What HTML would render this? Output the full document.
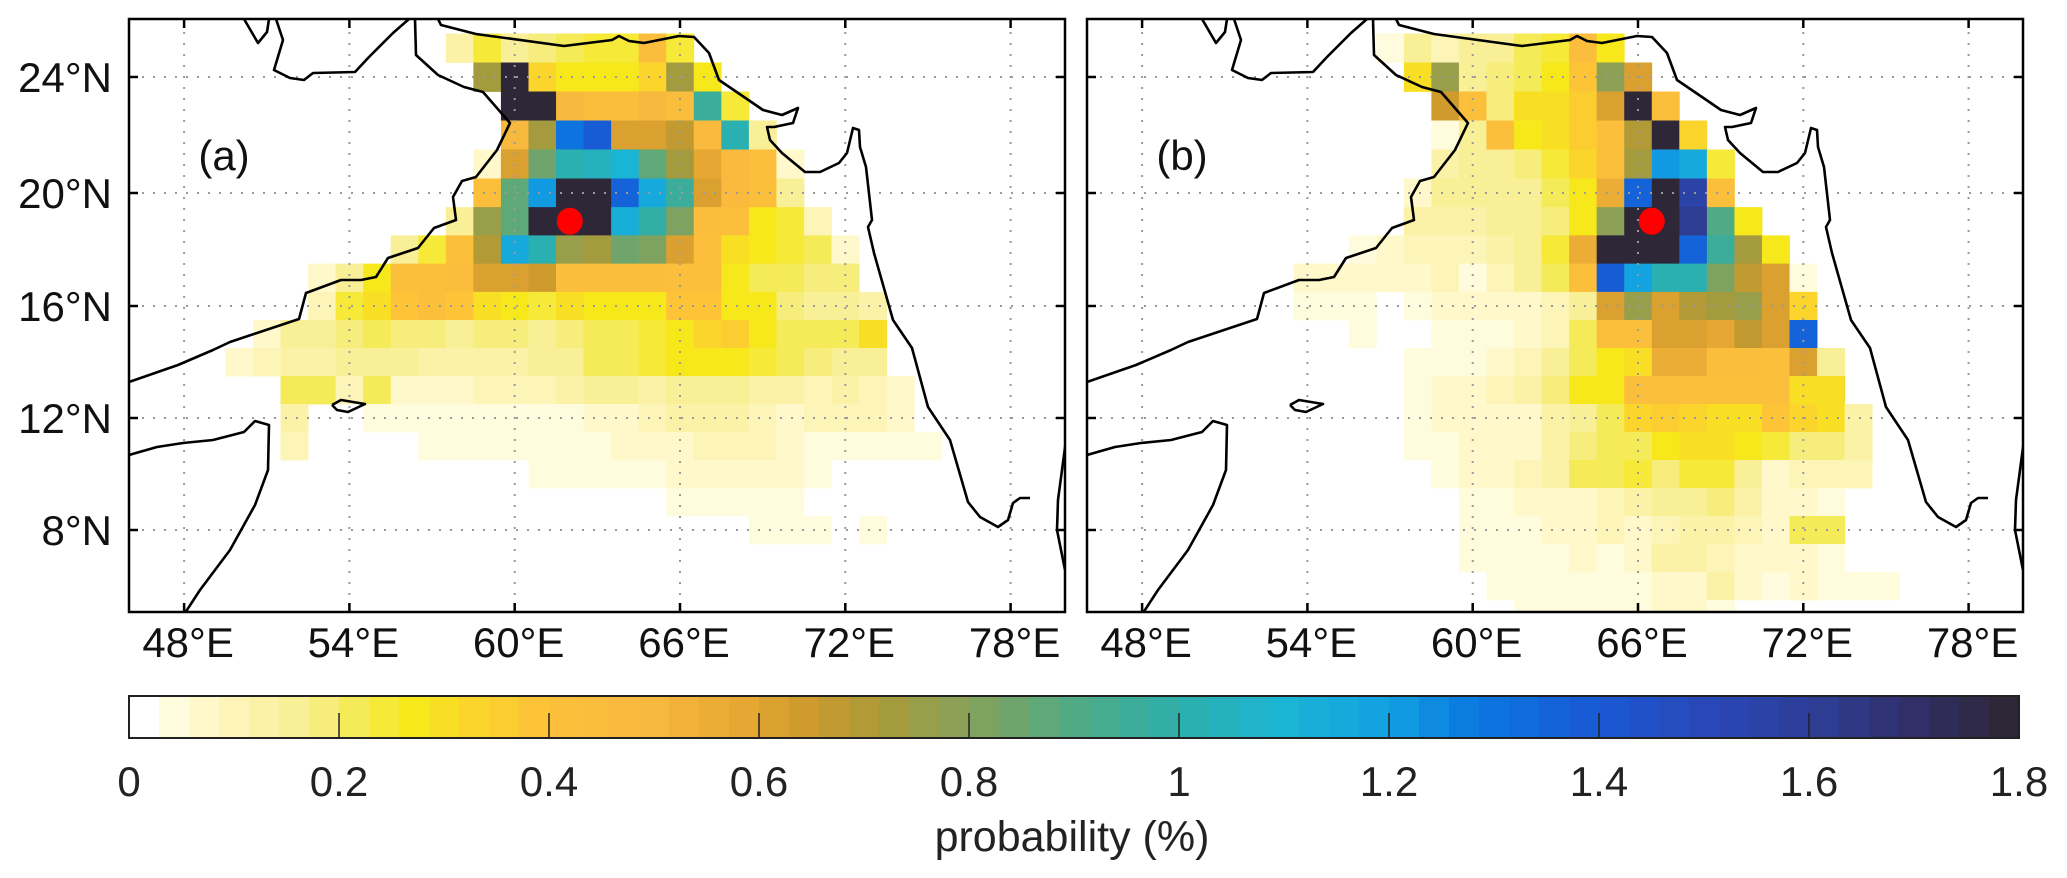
<!DOCTYPE html>
<html><head><meta charset="utf-8"><title>Probability maps</title>
<style>
html,body{margin:0;padding:0;background:#fff;}
svg{display:block;font-family:"Liberation Sans",Arial,sans-serif;}
</style></head>
<body>
<svg id="fig" width="2067" height="878" viewBox="0 0 2067 878" xmlns="http://www.w3.org/2000/svg">
<defs>
<clipPath id="clipA"><rect x="129" y="19" width="936" height="593"/></clipPath>
<clipPath id="clipB"><rect x="1087" y="19" width="936" height="593"/></clipPath>
</defs>
<g id="panelA"></g>
<g id="panelB"></g>
<g id="cbar"></g>
</svg>
<script>
// ---- data ----
const lonTicks = [48, 54, 60, 66, 72, 78];
const lonTickLabels = ["48°E", "54°E", "60°E", "66°E", "72°E", "78°E"];
const latTicks = [24, 20, 16, 12, 8];
const latTickLabels = ["24°N", "20°N", "16°N", "12°N", "8°N"];
const cbarTicks = [0, 0.2, 0.4, 0.6, 0.8, 1, 1.2, 1.4, 1.6, 1.8];
const cbarTickLabels = ["0", "0.2", "0.4", "0.6", "0.8", "1", "1.2", "1.4", "1.6", "1.8"];
const originA = [62, 19];
const originB = [66.5, 19];
// rows: [lat, first lon, values...]
const gridA = [
 [25, 58, [0.12,0.25,0.15,0.18,0.2,0.25,0.25,0.45,0.25]],
 [24, 59, [0.72,1.8,0.32,0.27,0.28,0.27,0.33,0.72,0.27]],
 [23, 60, [1.8,1.8,0.5,0.45,0.45,0.5,0.45,0.95,0.25]],
 [22, 60, [0.5,0.72,1.3,1.38,0.62,0.62,0.68,0.47,1.0,0.15]],
 [21, 59, [0.08,0.62,0.85,1.0,1.05,1.1,0.88,0.72,0.58,0.48,0.42,0.06]],
 [20, 59, [0.42,0.88,1.2,1.8,1.8,1.35,1.15,0.95,0.62,0.47,0.4,0.15]],
 [19, 58, [0.15,0.75,0.88,1.8,1.8,1.8,1.12,0.98,0.8,0.45,0.4,0.27,0.25,0.1]],
 [18, 56, [0.15,0.25,0.42,0.7,1.15,1.0,0.75,0.72,0.85,0.82,0.62,0.42,0.3,0.27,0.25,0.2,0.08]],
 [17, 53, [0.06,0.15,0.28,0.42,0.42,0.45,0.6,0.62,0.65,0.45,0.45,0.45,0.45,0.42,0.4,0.27,0.22,0.22,0.18,0.18]],
 [16, 53, [0.1,0.25,0.3,0.38,0.4,0.38,0.3,0.28,0.25,0.3,0.27,0.27,0.27,0.38,0.38,0.27,0.27,0.18,0.17,0.17,0.12]],
 [15, 51, [0.08,0.15,0.15,0.18,0.22,0.18,0.18,0.15,0.18,0.18,0.15,0.18,0.2,0.22,0.25,0.27,0.33,0.35,0.27,0.22,0.2,0.2,0.3]],
 [14, 50, [0.06,0.1,0.12,0.12,0.15,0.15,0.15,0.12,0.12,0.12,0.12,0.15,0.15,0.2,0.22,0.25,0.27,0.27,0.27,0.25,0.22,0.18,0.15,0.15]],
 [13, 52, [0.2,0.22,0.1,0.22,0.08,0.08,0.08,0.1,0.1,0.1,0.12,0.15,0.15,0.12,0.15,0.15,0.15,0.12,0.12,0.1,0.12,0.1,0.08]],
 [12, 52, [0.12,0,0,0.03,0.03,0.04,0.04,0.04,0.04,0.04,0.05,0.06,0.08,0.1,0.12,0.12,0.12,0.1,0.08,0.1,0.1,0.1,0.08]],
 [11, 52, [0.1,0,0,0,0,0.03,0.03,0.03,0.03,0.03,0.04,0.04,0.06,0.07,0.08,0.1,0.1,0.1,0.06,0.05,0.05,0.05,0.05,0.05]],
 [10, 61, [0.03,0.03,0.04,0.05,0.05,0.07,0.08,0.08,0.08,0.07,0.04]],
 [9, 66, [0.04,0.05,0.05,0.05,0.05]],
 [8, 69, [0.04,0.04,0.04,0,0.05]]
];
const gridB = [
 [25, 57, [0.05,0.15,0.1,0.15,0.15,0.2,0.25,0.43,0.27]],
 [24, 58, [0.3,0.75,0.15,0.18,0.22,0.27,0.38,0.78,0.6]],
 [23, 59, [0.65,0.42,0.18,0.3,0.3,0.37,0.62,1.8,0.42]],
 [22, 59, [0.04,0.15,0.42,0.27,0.3,0.35,0.42,0.7,1.8,0.32]],
 [21, 59, [0.12,0.15,0.15,0.18,0.25,0.33,0.42,0.72,1.2,1.15,0.25]],
 [20, 58, [0.08,0.15,0.15,0.15,0.15,0.2,0.27,0.55,1.35,1.8,1.55,0.42]],
 [19, 58, [0.12,0.12,0.12,0.15,0.15,0.18,0.28,0.78,1.8,1.8,1.6,0.9,0.27]],
 [18, 56, [0.05,0.06,0.1,0.1,0.1,0.12,0.15,0.25,0.55,1.8,1.8,1.8,1.35,0.95,0.72,0.27]],
 [17, 54, [0.06,0.08,0.08,0.08,0.08,0.1,0.03,0.1,0.15,0.2,0.42,1.4,1.18,1.0,1.02,0.82,0.68,0.6,0.05]],
 [16, 54, [0.04,0.04,0.04,0,0.04,0.06,0.06,0.08,0.08,0.1,0.15,0.62,0.75,0.6,0.7,0.72,0.76,0.6,0.33]],
 [15, 56, [0.04,0,0,0.04,0.05,0.05,0.08,0.1,0.22,0.42,0.42,0.62,0.6,0.58,0.68,0.6,1.35]],
 [14, 58, [0.04,0.04,0.04,0.08,0.1,0.15,0.2,0.28,0.3,0.55,0.55,0.45,0.45,0.42,0.62,0.15]],
 [13, 58, [0.04,0.06,0.06,0.1,0.12,0.18,0.27,0.28,0.4,0.42,0.42,0.42,0.4,0.42,0.3,0.3]],
 [12, 58, [0.04,0.06,0.06,0.08,0.08,0.12,0.15,0.22,0.33,0.35,0.33,0.3,0.3,0.38,0.33,0.3,0.12]],
 [11, 58, [0.04,0.04,0.06,0.08,0.08,0.12,0.18,0.22,0.22,0.27,0.3,0.3,0.27,0.25,0.18,0.18,0.12]],
 [10, 59, [0.04,0.06,0.06,0.1,0.12,0.2,0.2,0.25,0.18,0.25,0.25,0.15,0.08,0.1,0.1,0.1]],
 [9, 60, [0.04,0.05,0.08,0.08,0.06,0.1,0.12,0.15,0.15,0.18,0.12,0.08,0.06,0.04]],
 [8, 60, [0.03,0.04,0.05,0.08,0.06,0.1,0.08,0.1,0.12,0.12,0.1,0.08,0.22,0.22]],
 [7, 60, [0.03,0.04,0.05,0.05,0.08,0.04,0.08,0.12,0.12,0.1,0.08,0.06,0.06,0.05]],
 [6, 61, [0.04,0.04,0.04,0.04,0.04,0.05,0.08,0.08,0.12,0.08,0.04,0.08,0.04,0.05,0.05]],
 [5, 62, [0.04,0.04,0.04,0.04,0.05,0.06,0.06,0.05]]
];
// colormap anchors
const cmapVals = [0,0.03,0.1,0.17,0.22,0.27,0.33,0.4,0.5,0.58,0.65,0.72,0.8,0.9,1.0,1.1,1.2,1.28,1.4,1.5,1.6,1.7,1.8];
const cmapCols = ["#ffffff","#fffde6","#fdf5b8","#f8ee90","#f5ea50","#f7e81c","#fbd52c","#fdc03a","#f7b83e","#e8a834","#cc9a2c","#a89a3c","#86a25a","#50aa84","#2eafac","#1ab4d4","#12a0e2","#0a78e0","#1a58d4","#2848b8","#2e3e98","#302f68","#2e2630"];

// coastlines (panel-a pixel frame; panel b is shifted)
const coasts = [
 [[129,382],[178,365],[213,350],[230,342],[299,319],[306,293],[341,280],[361,280],[376,277],[388,258],[418,248],[434,228],[456,220],[453,197],[462,181],[476,177],[497,150],[510,123],[483,92],[464,87],[438,75],[416,55],[415,19]],
 [[438,19],[441,25],[476,34],[564,46],[612,40],[619,36],[629,41],[644,43],[679,36],[694,37],[709,53],[719,80],[744,97],[763,110],[782,115],[798,108],[793,123],[774,127],[767,127],[770,140],[782,153],[805,172],[820,172],[839,163],[847,153],[853,128],[859,130],[860,147],[866,167],[872,220],[868,227],[874,253],[893,320],[912,348],[928,407],[950,440],[968,502],[980,517],[998,527],[1008,520],[1013,503],[1020,498],[1030,498]],
 [[1066,440],[1058,500],[1057,530],[1065,570]],
 [[276,19],[283,40],[274,70],[290,78],[304,80],[313,73],[355,72],[369,57],[393,33],[409,19]],
 [[244,19],[258,43],[267,32],[269,19]],
 [[129,455],[157,447],[183,443],[213,440],[244,432],[255,421],[269,425],[268,470],[255,505],[230,550],[200,590],[185,613]],
 [[332,405],[341,400],[365,404],[348,412],[337,410],[332,405]]
];

// ---- axes ----
const PX_PER_LON = 27.55;
const latKnots = [[26,19],[24,77],[20,193],[16,306],[12,418],[8,530],[5,614]];
function xLon(lon, off){ return off + 129 + (lon - 46) * PX_PER_LON; }
function yLat(lat){
  for (let i=0;i<latKnots.length-1;i++){
    const a=latKnots[i], b=latKnots[i+1];
    if (lat<=a[0] && lat>=b[0]) return a[1] + (a[0]-lat)/(a[0]-b[0])*(b[1]-a[1]);
  }
  return lat>26 ? 19-(lat-26)*29 : 614+(5-lat)*28;
}
const CB_X0 = 129, CB_X1 = 2019, CB_Y0 = 696, CB_Y1 = 738, CB_MAX = 1.8, NBINS = 63;
function xCb(v){ return CB_X0 + v / CB_MAX * (CB_X1 - CB_X0); }

function hex2rgb(h){ return [parseInt(h.slice(1,3),16),parseInt(h.slice(3,5),16),parseInt(h.slice(5,7),16)]; }
function cmap(v){
  const bin = Math.min(NBINS-1, Math.max(0, Math.floor(v / CB_MAX * NBINS)));
  if (bin === 0) return "#ffffff";
  const c = (bin + 0.5) / NBINS * CB_MAX;
  for (let i=0;i<cmapVals.length-1;i++){
    if (c>=cmapVals[i] && c<=cmapVals[i+1]){
      const t=(c-cmapVals[i])/(cmapVals[i+1]-cmapVals[i]);
      const a=hex2rgb(cmapCols[i]), b=hex2rgb(cmapCols[i+1]);
      return "rgb("+a.map((x,k)=>Math.round(x+(b[k]-x)*t)).join(",")+")";
    }
  }
  return cmapCols[cmapCols.length-1];
}

const NS = "http://www.w3.org/2000/svg";
function mk(tag, attrs, parent){
  const e = document.createElementNS(NS, tag);
  for (const k in attrs) e.setAttribute(k, attrs[k]);
  parent.appendChild(e);
  return e;
}

function drawPanel(gid, off, grid, origin, clipId, letter, showLat){
  const g = document.getElementById(gid);
  const cells = mk("g", {"clip-path":"url(#"+clipId+")"}, g);
  
  
  grid.forEach(row => {
    const lat = row[0], lon0 = row[1], vals = row[2];
    vals.forEach((v, i) => {
      if (!(v > 0)) return;
      const lon = lon0 + i;
      const x0 = xLon(lon-0.5, off), x1 = xLon(lon+0.5, off);
      const y0 = yLat(lat+0.5), y1 = yLat(lat-0.5);
      const r = mk("rect", {x:x0.toFixed(2), y:y0.toFixed(2), width:(x1-x0+0.4).toFixed(2), height:(y1-y0+0.4).toFixed(2), fill:cmap(v)}, cells);
      
      
    });
  });
  // grid lines
  const grd = mk("g", {stroke:"#9a9a9a", "stroke-width":"2", "stroke-dasharray":"2 9", fill:"none"}, g);
  
  
  lonTicks.forEach(l => { const x=xLon(l,off); mk("line",{x1:x,y1:21,x2:x,y2:610},grd); });
  latTicks.forEach(l => { const y=yLat(l); mk("line",{x1:131+off,y1:y,x2:1063+off,y2:y},grd); });
  // coastlines
  const cg = mk("g", {"clip-path":"url(#"+clipId+")", stroke:"#000", "stroke-width":"2.6", fill:"none", "stroke-linejoin":"round"}, g);
  
  
  coasts.forEach(p => {
    mk("polyline", {points: p.map(q => (q[0]+off)+","+q[1]).join(" ")}, cg);
  });
  // origin dot
  const dot = mk("ellipse", {cx:xLon(origin[0],off), cy:yLat(origin[1]), rx:13, ry:13.5, fill:"#ff0000"}, g);
  
  
  // frame
  const fr = mk("rect", {x:129+off, y:19, width:936, height:593, fill:"none", stroke:"#000", "stroke-width":"2.5"}, g);
  
  
  const tk = mk("g", {stroke:"#000", "stroke-width":"2.5"}, g);
  
  
  lonTicks.forEach(l => { const x=xLon(l,off); mk("line",{x1:x,y1:612,x2:x,y2:603},tk); mk("line",{x1:x,y1:19,x2:x,y2:28},tk); });
  latTicks.forEach(l => { const y=yLat(l); mk("line",{x1:129+off,y1:y,x2:138+off,y2:y},tk); mk("line",{x1:1065+off,y1:y,x2:1056+off,y2:y},tk); });
  // labels
  lonTicks.forEach((l, i) => {
    const t = mk("text", {x:xLon(l,off)+4, y:657, "text-anchor":"middle", "font-size":"42", fill:"#111"}, g);
    t.textContent = lonTickLabels[i];
    
    
  });
  if (showLat) latTicks.forEach((l, i) => {
    const t = mk("text", {x:112, y:yLat(l)+15, "text-anchor":"end", "font-size":"42", fill:"#111"}, g);
    t.textContent = latTickLabels[i];
    
    
  });
  const pl = mk("text", {x:224+off, y:170, "text-anchor":"middle", "font-size":"42", fill:"#111"}, g);
  pl.textContent = letter;
  
  
}

drawPanel("panelA", 0, gridA, originA, "clipA", "(a)", true);
drawPanel("panelB", 958, gridB, originB, "clipB", "(b)", false);

// colorbar
(function(){
  const g = document.getElementById("cbar");
  for (let b=0;b<NBINS;b++){
    const v0 = b/NBINS*CB_MAX, v1=(b+1)/NBINS*CB_MAX;
    const r = mk("rect", {x:xCb(v0).toFixed(2), y:CB_Y0, width:(xCb(v1)-xCb(v0)+0.5).toFixed(2), height:CB_Y1-CB_Y0, fill:cmap((v0+v1)/2)}, g);
    
    
  }
  const fr = mk("rect", {x:CB_X0, y:CB_Y0, width:CB_X1-CB_X0, height:CB_Y1-CB_Y0, fill:"none", stroke:"#222", "stroke-width":"2"}, g);
  
  
  cbarTicks.forEach((v,i) => {
    const x = xCb(v);
    if (v>0 && v<CB_MAX){
      const l = mk("line", {x1:x, y1:CB_Y1, x2:x, y2:CB_Y1-25, stroke:"#222", "stroke-width":"1.5"}, g);
      
      
    }
    const t = mk("text", {x:x, y:796, "text-anchor":"middle", "font-size":"42", fill:"#222"}, g);
    t.textContent = cbarTickLabels[i];
    
    
  });
  const t = mk("text", {x:1072, y:851, "text-anchor":"middle", "font-size":"43", fill:"#222"}, g);
  t.textContent = "probability (%)";
  
  
})();
</script>
</body></html>
